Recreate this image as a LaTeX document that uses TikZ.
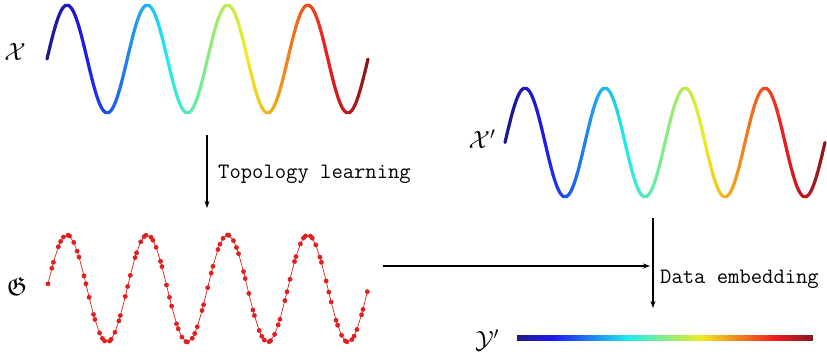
\documentclass[tikz,border=0pt]{standalone}
\usepackage{amssymb}
\usetikzlibrary{arrows.meta}
\definecolor{gred}{rgb}{0.88,0.12,0.12}
\newcommand\jetcol[1]{%
  \pgfmathsetmacro\jr{0.12+0.82*max(0,min(1,1.5-abs(4*#1-3)))}%
  \pgfmathsetmacro\jg{0.1+0.82*max(0,min(1,1.5-abs(4*#1-2)))}%
  \pgfmathsetmacro\jb{0.12+0.82*max(0,min(1,1.5-abs(4*#1-1)))}%
  \definecolor{jc}{rgb}{\jr,\jg,\jb}}
\newcommand\jetwave[4]{% x0, x1, yc, amp
  \foreach \i in {0,...,199}{%
    \pgfmathsetmacro\xa{#1+(#2-#1)/200*\i}%
    \pgfmathsetmacro\xb{#1+(#2-#1)/200*(\i+1)}%
    \pgfmathsetmacro\ya{#3+#4*sin(7.2*\i)}%
    \pgfmathsetmacro\yb{#3+#4*sin(7.2*(\i+1))}%
    \pgfmathsetmacro\jt{(\i+0.5)/200}%
    \jetcol{\jt}%
    \draw[jc, line width=3.2pt, line cap=round] (\xa,\ya) -- (\xb,\yb);
  }}
\begin{document}
\begin{tikzpicture}[x=1pt,y=1pt]
\tikzset{
  lbl/.style={font=\fontsize{26}{28}\selectfont, inner sep=0pt},
  steptext/.style={font=\ttfamily\fontsize{22}{24}\selectfont, anchor=base west, inner sep=0pt},
  flow/.style={-{Stealth[length=7pt,width=5pt]}, line width=1.3pt},
}
\useasboundingbox (0,0) rectangle (827,357);
\fill[white] (0,0) rectangle (827,357);

% waves
\jetwave{47}{368}{298}{54}
\jetwave{505}{825}{214.5}{54.5}

% graph G
\draw[gred, line width=0.7pt] plot[variable=\t, domain=0:100, samples=101, mark=*, mark size=2pt, mark options={fill=gred, draw=gred}]
  ({48+3.19*(\t+0.3*sin(\t*137))}, {68.5+53.5*sin(4.4832*(3.19*(\t+0.3*sin(\t*137))) + 5)});

% Y' bar
\foreach \i in {0,...,99}{%
  \pgfmathsetmacro\xa{517+2.96*\i}%
  \pgfmathsetmacro\xb{517+2.96*(\i+1)}%
  \pgfmathsetmacro\jt{(\i+0.5)/100}%
  \jetcol{\jt}%
  \draw[jc, line width=6pt] (\xa,19) -- (\xb,19);
}

% labels
\node[lbl] (lx) at (15,305) {$\mathcal{X}$};
\node[lbl] (lg) at (17,70) {$\mathfrak{G}$};
\node[lbl] (lxp) at (482,218) {$\mathcal{X}'$};
\node[lbl] (lyp) at (487,17) {$\mathcal{Y}'$};

% arrows
\coordinate (a1s) at (207,222);
\coordinate (a1e) at (207,149);
\coordinate (a2s) at (383,91);
\coordinate (a2e) at (650,91);
\coordinate (a3s) at (653,139);
\coordinate (a3e) at (653,49);
\draw[flow] (a1s) -- (a1e);
\draw[flow] (a2s) -- (a2e);
\draw[flow] (a3s) -- (a3e);
\node[steptext] (t1) at (218,179) {Topology learning};
\node[steptext] (t2) at (660,74) {Data embedding};
\end{tikzpicture}
\end{document}
